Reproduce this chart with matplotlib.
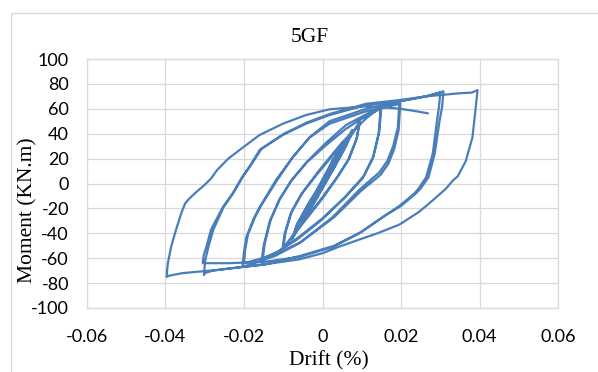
import matplotlib
matplotlib.use('Agg')
import matplotlib.pyplot as plt
from matplotlib.patches import Rectangle
import numpy as np

plt.rcParams['axes.unicode_minus'] = False

# hysteresis path (drift, moment)
drift_c1 = [0, 0.0012, 0.0028, 0.0018, 0.0, -0.0015, -0.003, -0.002, 0.0, 0.0015, 0.0028, 0.0017, 0.0, -0.0016, -0.003, -0.0019, 0.0]
moment_c1 = [0, 9, 20, 12, -2, -12, -20, -13, 1, 11, 19, 11, -3, -12, -19, -12, 0]

drift_c2 = [0.0025, 0.005, 0.0038, 0.001, -0.002, -0.0055, -0.0043, -0.0015, 0.0015, 0.005, 0.0037, 0.0008, -0.0022, -0.0055, -0.004, -0.001]
moment_c2 = [17, 32, 22, 4, -14, -33, -22, -6, 12, 31, 20, 2, -15, -32, -21, -3]

drift_c3 = [0.002, 0.0052, 0.0076, 0.0062, 0.003, -0.001, -0.0048, -0.0078, -0.0066, -0.0035, 0.0, 0.004, 0.0075, 0.006, 0.0025, -0.0015, -0.005, -0.0077, -0.0064, -0.003]
moment_c3 = [14, 30, 43, 32, 13, -9, -28, -45, -34, -16, 2, 24, 42, 30, 10, -12, -30, -44, -32, -13]

drift_c4 = [0.001, 0.005, 0.0095, 0.0088, 0.0068, 0.004, 0.0, -0.005, -0.0102, -0.0097, -0.0082, -0.0055, -0.0015, 0.003, 0.0068, 0.0094,
            0.0086, 0.0064, 0.0035, -0.0005, -0.0055, -0.010, -0.0094, -0.0078, -0.005]
moment_c4 = [5, 26, 50, 37, 20, 6, -12, -32, -53, -41, -25, -9, 7, 24, 38, 48, 35, 18, 4, -13, -33, -52, -39, -22, -7]

drift_c5 = [-0.001, 0.005, 0.011, 0.015, 0.0145, 0.013, 0.0105, 0.006, 0.0, -0.006, -0.011, -0.0155, -0.015, -0.0135, -0.011, -0.008,
            -0.004, 0.001, 0.006, 0.011, 0.0148, 0.0143, 0.0128, 0.0102, 0.0055, -0.0005, -0.0065, -0.0115, -0.0152, -0.0147, -0.0132,
            -0.0108, -0.0078, -0.0038]
moment_c5 = [10, 33, 52, 62, 42, 22, 6, -10, -28, -43, -54, -62, -50, -31, -13, 2, 17, 31, 44, 54, 60, 40, 20, 4, -12, -30, -45, -55,
             -60, -48, -29, -12, 3, 18]

drift_c6 = [0.001, 0.006, 0.012, 0.0196, 0.0192, 0.018, 0.0165, 0.0145, 0.0094, 0.0026, -0.0059, -0.012, -0.0165, -0.0204, -0.0200,
            -0.0194, -0.0175, -0.016, -0.0118, -0.0076, -0.0033, 0.0018, 0.0111, 0.0198, 0.0194, 0.0183, 0.0168, 0.0148, 0.0098, 0.003,
            -0.0055, -0.012, -0.0165, -0.0200, -0.0197, -0.019, -0.0172, -0.0157, -0.0115]
moment_c6 = [33, 47, 57, 66, 45, 30, 18, 9, -5, -27, -48, -58, -63, -67, -55, -43, -28, -19, 3, 21, 37, 48, 58, 64, 43, 28, 16, 7, -6,
             -27, -47, -57, -61, -64, -53, -41, -27, -18, 3]

drift_c7 = [-0.0076, -0.0033, 0.0018, 0.0111, 0.0196, 0.0264, 0.0300, 0.0297, 0.0292, 0.0281, 0.0264, 0.0245, 0.0234, 0.0196, 0.0154,
            0.0094, 0.0026, -0.0059, -0.015, -0.024, -0.0305, -0.0303, -0.0296, -0.0284, -0.0254, -0.0229, -0.0205, -0.0185, -0.016,
            -0.0101, -0.0042, 0.0018, 0.0111, 0.0196, 0.0264, 0.0308, 0.0305, 0.0298, 0.0286, 0.0270, 0.0250, 0.0238, 0.0200, 0.0158,
            0.0098, 0.003, -0.0055, -0.0145, -0.0230, -0.0280, -0.0300, -0.0302, -0.0299, -0.0290, -0.0278, -0.0252, -0.0226, -0.0202,
            -0.0182, -0.0155, -0.0098, -0.0040, 0.0020, 0.0111, 0.0196, 0.0264, 0.0350, 0.0380]
moment_c7 = [21, 37, 50, 60, 66, 70, 73, 62, 51, 24, 5, -4, -8, -18, -27, -40, -51, -59, -63, -64, -64, -58, -51, -37, -19, -8, 5, 14,
             27, 39, 48, 55, 63, 66, 70, 74, 62, 50, 24, 5, -4, -8, -18, -26, -39, -50, -58, -65, -68, -70, -72, -73.5, -62, -50, -37,
             -19, -7, 6, 15, 28, 40, 49, 56, 64, 67, 70, 72.5, 73]

drift_c8 = [0.0395, 0.0390, 0.0382, 0.0365, 0.0345, 0.0331, 0.0315, 0.0290, 0.0268, 0.0245, 0.0196, 0.0140, 0.0094, 0.0040, 0.0, -0.0060,
            -0.0150, -0.0270, -0.0357, -0.0390, -0.0397, -0.0396, -0.0394, -0.0385, -0.0373, -0.0360, -0.0350, -0.0339, -0.0322, -0.0300,
            -0.0284, -0.0268, -0.0240, -0.0211, -0.0160, -0.0101, -0.0042, 0.0018, 0.0111, 0.0188, 0.0230, 0.0268]
moment_c8 = [75, 60, 37, 18, 6, 2, -4, -11, -17, -23, -33, -40, -45, -51, -56, -61, -65, -69.5, -72, -74, -75, -70, -64, -50, -37, -24,
             -16, -12, -7, -1, 4, 11, 20, 27, 39, 48, 55, 59.6, 62, 60.4, 58.5, 56.4]

x_ticks = [-0.06, -0.04, -0.02, 0, 0.02, 0.04, 0.06]
x_labels = ['-0.06', '-0.04', '-0.02', '0', '0.02', '0.04', '0.06']
y_ticks = list(range(-100, 101, 20))

drift = np.concatenate([drift_c1, drift_c2, drift_c3, drift_c4, drift_c5, drift_c6, drift_c7, drift_c8])
moment = np.concatenate([moment_c1, moment_c2, moment_c3, moment_c4, moment_c5, moment_c6, moment_c7, moment_c8])

W, H = 598, 372
fig = plt.figure(figsize=(W / 100, H / 100), dpi=100)
ax = fig.add_axes([87 / W, (H - 308) / H, (558 - 87) / W, (308 - 59) / H])

ax.plot(drift, moment, color='#4a7ebb', lw=1.6, solid_joinstyle='round')

ax.set_xlim(-0.06, 0.06)
ax.set_ylim(-100, 100)
ax.set_xticks(x_ticks)
ax.set_xticklabels(x_labels)
ax.set_yticks(y_ticks)
ax.set_yticklabels([str(v) for v in y_ticks])
ax.grid(True, color='#d9d9d9', lw=0.9)
ax.set_axisbelow(True)
for s in ax.spines.values():
    s.set_color('#d9d9d9')
    s.set_linewidth(0.9)
ax.tick_params(length=0, labelsize=13, colors='#000000')
ax.tick_params(axis='y', pad=13)
ax.tick_params(axis='x', pad=15)
for lab in ax.get_xticklabels() + ax.get_yticklabels():
    lab.set_family('Lato')

serif = ['Liberation Serif', 'DejaVu Serif']
fig.text(310 / W, 1 - 38 / H, '5GF', family=serif, fontsize=15.5, ha='center', va='center')
fig.text(329 / W, 1 - 361 / H, 'Drift (%)', family=serif, fontsize=15.5, ha='center', va='center')
fig.text(28 / W, 1 - 210 / H, 'Moment (KN.m)', family=serif, fontsize=15.5, ha='center', va='center', rotation=90)

# outer chart-area border (cut off at right and bottom)
fig.add_artist(Rectangle((11 / W, -0.2), 1.2, (H - 13) / H + 0.2, transform=fig.transFigure,
                         fill=False, ec='#d9d9d9', lw=1))

fig.savefig('out.png', dpi=100)
